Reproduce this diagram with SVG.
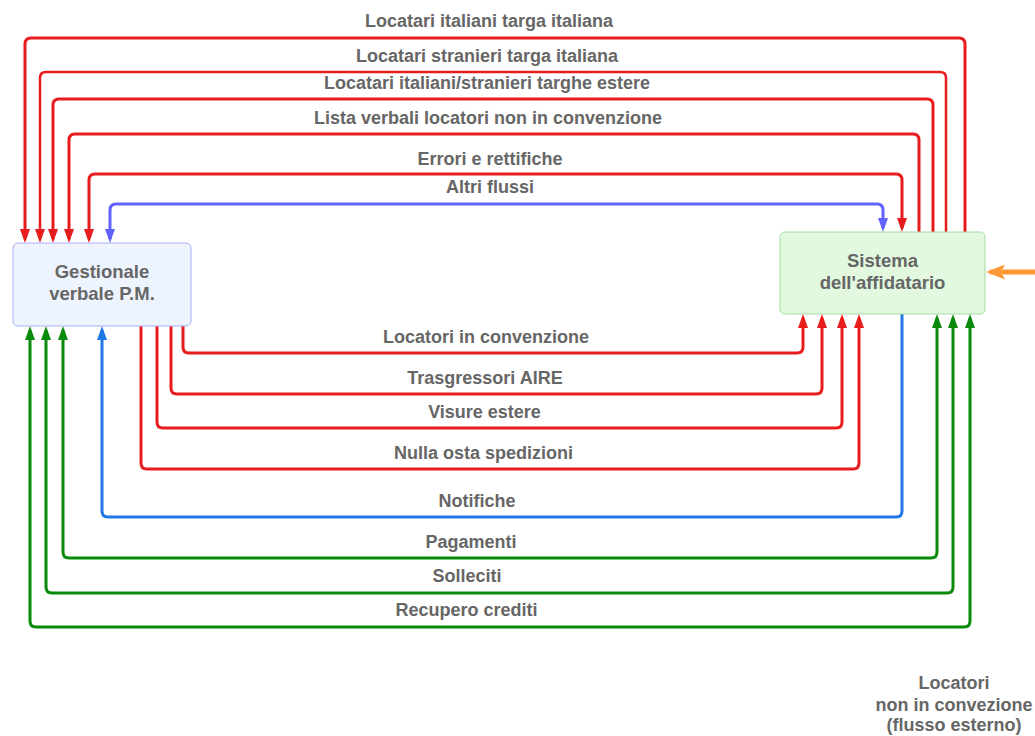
<svg xmlns="http://www.w3.org/2000/svg" width="1035" height="736" viewBox="0 0 1035 736">
<style>
.lbl{font-family:"Liberation Sans",Arial,sans-serif;font-weight:bold;font-size:18px;fill:#666666;text-anchor:middle}
.node{font-family:"Liberation Sans",Arial,sans-serif;font-weight:bold;font-size:18.5px;fill:#666666;text-anchor:middle}
.c{fill:none;stroke-width:3;stroke-linejoin:round}
.red{stroke:#E81C1C}
.blu{stroke:#6262FF}
.blu2{stroke:#1F78E6}
.grn{stroke:#0A8A0A}
</style>
<defs>
<marker id="aR" viewBox="0 0 14 10" refX="10" refY="5" markerWidth="14" markerHeight="10" markerUnits="userSpaceOnUse" orient="auto-start-reverse"><path d="M0,0 L14,5 L0,10 z" fill="#E81C1C"/></marker>
<marker id="aB" viewBox="0 0 14 10" refX="10" refY="5" markerWidth="14" markerHeight="10" markerUnits="userSpaceOnUse" orient="auto-start-reverse"><path d="M0,0 L14,5 L0,10 z" fill="#6262FF"/></marker>
<marker id="aB2" viewBox="0 0 14 10" refX="10" refY="5" markerWidth="14" markerHeight="10" markerUnits="userSpaceOnUse" orient="auto-start-reverse"><path d="M0,0 L14,5 L0,10 z" fill="#1F78E6"/></marker>
<marker id="aG" viewBox="0 0 14 10" refX="10" refY="5" markerWidth="14" markerHeight="10" markerUnits="userSpaceOnUse" orient="auto-start-reverse"><path d="M0,0 L14,5 L0,10 z" fill="#0A8A0A"/></marker>
<marker id="aO" viewBox="0 0 19 15" refX="15" refY="7.5" markerWidth="19" markerHeight="15" markerUnits="userSpaceOnUse" orient="auto"><path d="M0,0 L19,7.5 L0,15 L4,7.5 z" fill="#FF9933"/></marker>
</defs>
<rect width="1035" height="736" fill="#ffffff"/>
<g id="connectors">
<path class="c red" d="M965,232 V44 Q965,38 959,38 H31 Q25,38 25,44 V239" marker-end="url(#aR)"/>
<path class="c red" style="stroke-width:2.5" d="M946,232 V78 Q946,72 940,72 H46 Q40,72 40,78 V239" marker-end="url(#aR)"/>
<path class="c red" d="M933,232 V105 Q933,99 927,99 H59 Q53,99 53,105 V239" marker-end="url(#aR)"/>
<path class="c red" d="M919,232 V140 Q919,134 913,134 H75 Q69,134 69,140 V239" marker-end="url(#aR)"/>
<path class="c red" d="M89,239 V180 Q89,174 95,174 H896 Q902,174 902,180 V228" marker-start="url(#aR)" marker-end="url(#aR)"/>
<path class="c blu" d="M110,239 V210 Q110,204 116,204 H877 Q883,204 883,210 V228" marker-start="url(#aB)" marker-end="url(#aB)"/>
<path class="c red" d="M183,326 V347 Q183,353 189,353 H797 Q803,353 803,347 V318" marker-end="url(#aR)"/>
<path class="c red" d="M171,326 V388 Q171,394 177,394 H816 Q822,394 822,388 V318" marker-end="url(#aR)"/>
<path class="c red" d="M157,326 V422 Q157,428 163,428 H836 Q842,428 842,422 V318" marker-end="url(#aR)"/>
<path class="c red" d="M141,326 V463 Q141,469 147,469 H853 Q859,469 859,463 V318" marker-end="url(#aR)"/>
<path class="c blu2" d="M902,314 V511 Q902,517 896,517 H108 Q102,517 102,511 V330" marker-end="url(#aB2)"/>
<path class="c grn" d="M63,330 V552 Q63,558 69,558 H931 Q937,558 937,552 V318" marker-start="url(#aG)" marker-end="url(#aG)"/>
<path class="c grn" d="M46,330 V587 Q46,593 52,593 H947 Q953,593 953,587 V318" marker-start="url(#aG)" marker-end="url(#aG)"/>
<path class="c grn" d="M30,330 V621 Q30,627 36,627 H964 Q970,627 970,621 V318" marker-start="url(#aG)" marker-end="url(#aG)"/>
<path fill="none" stroke="#FF9933" stroke-width="5" d="M1035,272 H990" marker-end="url(#aO)"/>
</g>
<g id="labels">
<text class="lbl" x="489" y="27">Locatari italiani targa italiana</text>
<text class="lbl" x="487" y="62">Locatari stranieri targa italiana</text>
<text class="lbl" x="487" y="89">Locatari italiani/stranieri targhe estere</text>
<text class="lbl" x="488" y="124">Lista verbali locatori non in convenzione</text>
<text class="lbl" x="490" y="165">Errori e rettifiche</text>
<text class="lbl" x="490" y="193">Altri flussi</text>
<text class="lbl" x="486" y="343">Locatori in convenzione</text>
<text class="lbl" x="485" y="384">Trasgressori AIRE</text>
<text class="lbl" x="484.5" y="418">Visure estere</text>
<text class="lbl" x="483.5" y="459">Nulla osta spedizioni</text>
<text class="lbl" x="477" y="507">Notifiche</text>
<text class="lbl" x="471" y="548">Pagamenti</text>
<text class="lbl" x="467" y="582">Solleciti</text>
<text class="lbl" x="466.5" y="616">Recupero crediti</text>
</g>
<g id="gestionale">
<rect x="13" y="243" width="178" height="83" rx="5" fill="#EEF4FE" stroke="#A9B0F5" stroke-width="1"/>
<text class="node" x="102" y="278">Gestionale</text>
<text class="node" x="102" y="300">verbale P.M.</text>
</g>
<g id="sistema">
<rect x="780" y="232" width="205" height="82" rx="5" fill="#E2F9E0" stroke="#A6DBA0" stroke-width="1"/>
<text class="node" x="882.5" y="266.5">Sistema</text>
<text class="node" x="882.5" y="288.5">dell'affidatario</text>
</g>
<g id="esterno">
<text class="lbl" x="954" y="689">Locatori</text>
<text class="lbl" x="954" y="711">non in convezione</text>
<text class="lbl" x="954" y="731">(flusso esterno)</text>
</g>
</svg>
